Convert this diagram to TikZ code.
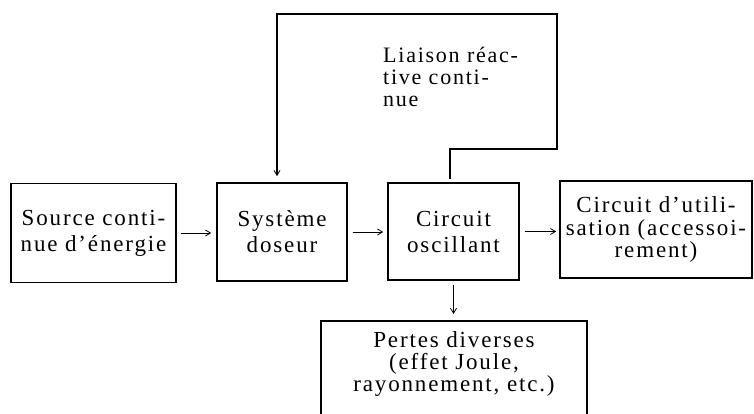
\documentclass[tikz,border=0pt]{standalone}
\usepackage{fontspec}
\setmainfont{Liberation Serif}[LetterSpace=8]
\usetikzlibrary{arrows.meta}
\tikzset{
  box/.style={draw, line width=1.6pt, inner sep=0pt, align=center, font=\fontsize{23}{26}\selectfont},
  box3/.style={box, font=\fontsize{23}{22.5}\selectfont},
  txt/.style={inner sep=0pt, font=\fontsize{23}{22}\selectfont},
  arr/.style={-{Straight Barb[length=5pt,width=6pt]}, line width=0.8pt},
  fb/.style={line width=1.6pt, -{Straight Barb[length=5pt,width=6pt,line width=0.8pt]}},
}
\begin{document}
\begin{tikzpicture}[x=1pt,y=-1pt]
\useasboundingbox (0,0) rectangle (754,414);
\clip (0,0) rectangle (754,414);
\node[box, minimum width=165pt, minimum height=99pt] (src) at (93.5,233) {Source conti-\\nue d’énergie};
\node[box, minimum width=130pt, minimum height=98pt] (sys) at (282,232) {Système\\doseur};
\node[box, minimum width=131pt, minimum height=97pt] (osc) at (453.5,231.5) {Circuit\\oscillant};
\node[box3, minimum width=192pt, minimum height=97pt] (util) at (656,229.5) {Circuit d’utili-\\sation (accessoi-\\rement)};
\node[box, anchor=north, minimum width=266pt, minimum height=110pt] (pertes) at (454,320) {};
\node[txt, anchor=north, align=center] (pertestxt) at (454,331) {Pertes diverses\\(effet Joule,\\rayonnement, etc.)};
\node[txt, anchor=north west, align=left, font=\fontsize{22}{22}\selectfont] (liaison) at (383,47) {Liaison réac-\\tive conti-\\nue};
\draw[arr, shorten <=4pt, shorten >=5pt] (src.east) -- (src.east -| sys.west);
\draw[arr, shorten <=5pt, shorten >=4pt] (sys.east) -- (sys.east -| osc.west);
\draw[arr, shorten <=5pt, shorten >=3pt] (osc.east) -- (osc.east -| util.west);
\draw[arr, shorten <=4pt, shorten >=6pt] (osc.south) -- (osc.south |- pertes.north);
\coordinate (fbS) at ([xshift=-3.5pt,yshift=3pt]osc.north);
\coordinate (fbR1) at (557,149);
\coordinate (fbR2) at (557,14);
\coordinate (fbL) at (277,14);
\draw[fb, shorten >=6pt] (fbS) |- (fbR1) -- (fbR2) -- (fbL) -- (fbL |- sys.north);
\end{tikzpicture}
\end{document}
